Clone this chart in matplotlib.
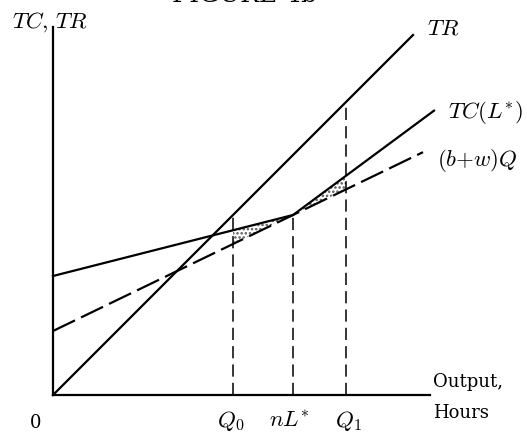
import matplotlib
matplotlib.use("Agg")
import matplotlib.pyplot as plt
import numpy as np

plt.rcParams["mathtext.fontset"] = "cm"
plt.rcParams["hatch.linewidth"] = 1.2

# quantities (1 unit ~ 1 pixel)
q0 = 180
nl_star = 240
q1 = 293
q_tr_end = 360
q_tc_end = 381
q_bw_end = 370

tr_slope = 1.0
tc_intercept = 119
tc_kink = 180          # TC at nL*
tc_slope_after = 0.74
bw_intercept = 64
bw_slope = (tc_kink - bw_intercept) / nl_star

x_axis_end = 377
y_axis_top = 368


def tc(q):
    q = np.asarray(q, dtype=float)
    before = tc_intercept + (tc_kink - tc_intercept) / nl_star * q
    after = tc_kink + tc_slope_after * (q - nl_star)
    return np.where(q <= nl_star, before, after)


def bw(q):
    return bw_intercept + bw_slope * np.asarray(q, dtype=float)


def tr(q):
    return tr_slope * np.asarray(q, dtype=float)


fig = plt.figure(figsize=(5.27, 4.35), dpi=100)
ax = fig.add_axes([0, 0, 1, 1])
ax.set_xlim(-53, 474)
ax.set_ylim(-39, 396)
ax.axis("off")

lw = 1.6
# axes
ax.plot([0, 0], [0, y_axis_top], color="black", lw=lw)
ax.plot([0, x_axis_end], [0, 0], color="black", lw=lw)

# curves
ax.plot([0, q_tr_end], tr([0, q_tr_end]), color="black", lw=lw)
ax.plot([0, nl_star, q_tc_end], tc([0, nl_star, q_tc_end]), color="black", lw=lw)
ax.plot([0, q_bw_end], bw([0, q_bw_end]), color="black", lw=lw,
        dashes=(11, 3))

# shaded triangles between TC(L*) and (b+w)Q
qs = np.linspace(q0, q1, 200)
ax.fill_between(qs, bw(qs), tc(qs), facecolor="none", edgecolor="#555555",
                hatch="....", linewidth=0)

# dashed verticals
for q, top in [(q0, tr(q0)), (nl_star, tc(nl_star)), (q1, tr(q1))]:
    ax.plot([q, q], [0, top], color="black", lw=1.1, dashes=(8, 4))

fs = 16.5
ax.text(-3, 374, r"$TC,\,TR$", fontsize=fs, ha="center", va="center")
ax.text(374, 368, r"$TR$", fontsize=fs, ha="left", va="center")
ax.text(395, 283, r"$TC(L^{*})$", fontsize=fs, ha="left", va="center")
ax.text(384, 236, r"$(b{+}w)Q$", fontsize=fs, ha="left", va="center")

ax.text(-17, -27, "0", fontsize=13, family="DejaVu Serif", ha="center", va="center")
ax.text(q0 - 2, -25, r"$Q_0$", fontsize=fs, ha="center", va="center")
ax.text(nl_star - 4, -25, r"$nL^{*}$", fontsize=fs, ha="center", va="center")
ax.text(q1 + 2, -25, r"$Q_1$", fontsize=fs, ha="center", va="center")
ax.text(380, 14, "Output,", fontsize=13, family="DejaVu Serif", ha="left", va="center")
ax.text(380, -17, "Hours", fontsize=13, family="DejaVu Serif", ha="left", va="center")

ax.text(192, 394, "FIGURE 4b", fontsize=18, family="DejaVu Serif",
        ha="center", va="baseline")

fig.savefig("out.png", dpi=100)
